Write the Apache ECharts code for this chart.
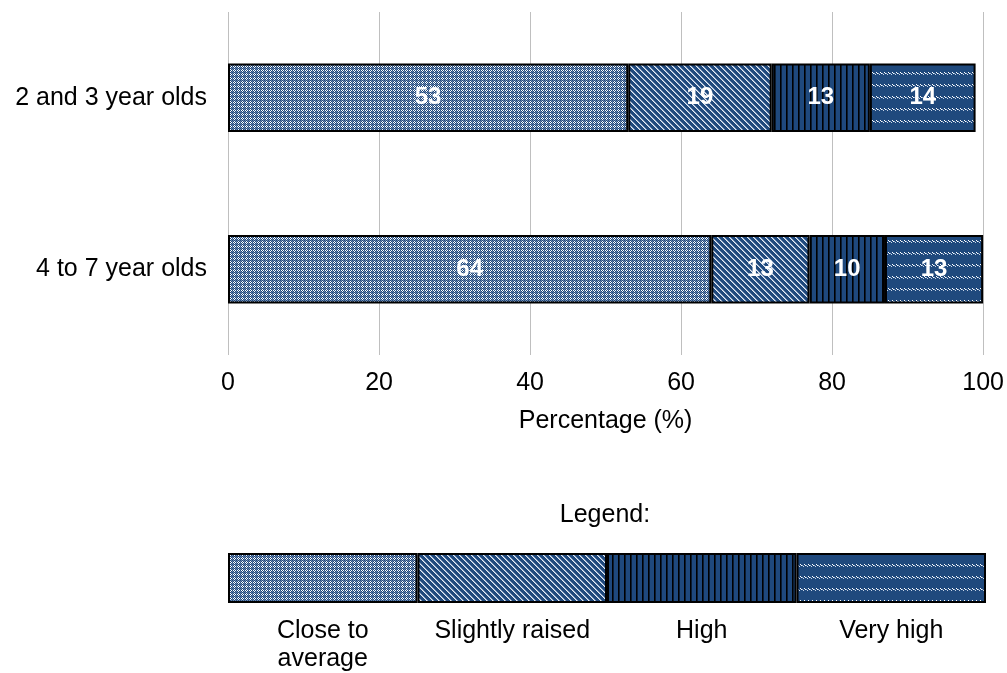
<!DOCTYPE html>
<html>
<head>
<meta charset="utf-8">
<script src="https://cdn.jsdelivr.net/npm/echarts@6/dist/echarts.min.js"></script>
<style>
  html, body { margin: 0; padding: 0; background: #fff; }
  #chart { width: 1007px; height: 673px; }
</style>
</head>
<body>
<div id="chart"></div>
<script>
// Age groups and the share (%) in each score band
const categories = ['2 and 3 year olds', '4 to 7 year olds'];
const closeToAverage = [53, 64];
const slightlyRaised = [19, 13];
const high = [13, 10];
const veryHigh = [14, 13];

const bandNames = ['Close to average', 'Slightly raised', 'High', 'Very high'];
// Equal-width swatches for the key strip under the chart
const keyShares = [1, 1, 1, 1];

const BLUE = '#1f497d';

// Builds a repeating pixel tile; paint(x, y) returns a colour or null
function makeTile(w, h, bg, paint) {
  const c = document.createElement('canvas');
  c.width = w; c.height = h;
  const ctx = c.getContext('2d');
  ctx.fillStyle = bg;
  ctx.fillRect(0, 0, w, h);
  for (let y = 0; y < h; y++) {
    for (let x = 0; x < w; x++) {
      const col = paint(x, y);
      if (col) { ctx.fillStyle = col; ctx.fillRect(x, y, 1, 1); }
    }
  }
  return { image: c, repeat: 'repeat' };
}

// Fine checker (close to average)
const patChecker = makeTile(4, 4, '#ffffff', (x, y) => {
  if ((x + y) % 2 === 0) return BLUE;
  if (x === 0 || y === 0) return '#6f88ad';
  return null;
});
// Wide downward diagonal (slightly raised)
const patDiag = makeTile(6, 6, BLUE, (x, y) => {
  const d = (x - y + 6) % 6;
  if (d === 0) return '#e8eef6';
  if (d === 1) return '#8aa2c4';
  return null;
});
// Vertical stripes (high)
const patVert = makeTile(6, 6, BLUE, (x) => {
  if (x === 0) return '#000000';
  if (x === 1) return '#0b1d33';
  return null;
});
// Rows of small dashes (very high)
const patWave = makeTile(4, 12, BLUE, (x, y) => {
  if (y === 0 && x === 0) return '#ffffff';
  if (y === 1 && x === 1) return '#ffffff';
  if (y === 1 && x === 2) return '#9fb3cf';
  if (y === 2 && x === 3) return '#c8d4e6';
  return null;
});
const patterns = [patChecker, patDiag, patVert, patWave];

const FONT = 'Liberation Sans, Arial, sans-serif';
const TEXT_SIZE = 25;

const valueLabel = {
  show: true,
  position: 'inside',
  color: '#ffffff',
  fontFamily: FONT,
  fontWeight: 'bold',
  fontSize: 24
};

const seriesData = [closeToAverage, slightlyRaised, high, veryHigh];

const mainSeries = seriesData.map((vals, i) => ({
  name: bandNames[i],
  type: 'bar',
  stack: 'total',
  xAxisIndex: 0,
  yAxisIndex: 0,
  barWidth: '40%',
  data: vals,
  itemStyle: { color: patterns[i], borderColor: '#000', borderWidth: 2 },
  label: valueLabel,
  emphasis: { disabled: true }
}));

const keySeries = {
  type: 'bar',
  xAxisIndex: 1,
  yAxisIndex: 1,
  barCategoryGap: '0%',
  data: keyShares.map((v, i) => ({
    value: v,
    itemStyle: { color: patterns[i], borderColor: '#000', borderWidth: 2 }
  })),
  emphasis: { disabled: true }
};

const chart = echarts.init(document.getElementById('chart'), null, { renderer: 'canvas' });
chart.setOption({
  animation: false,
  backgroundColor: '#ffffff',
  grid: [
    { left: 228, right: 23, top: 12, bottom: 318 },
    { left: 228, right: 21, top: 553, height: 53 }
  ],
  xAxis: [
    {
      gridIndex: 0,
      type: 'value',
      min: 0,
      max: 100,
      interval: 20,
      name: 'Percentage (%)',
      nameLocation: 'middle',
      nameGap: 54,
      nameTextStyle: { color: '#000', fontFamily: FONT, fontSize: TEXT_SIZE },
      axisLine: { show: false },
      axisTick: { show: false },
      axisLabel: { color: '#000', fontFamily: FONT, fontSize: TEXT_SIZE, margin: 16 },
      splitLine: { show: true, lineStyle: { color: '#bfbfbf', width: 1 } }
    },
    {
      gridIndex: 1,
      type: 'category',
      data: bandNames,
      axisLine: { show: false },
      axisTick: { show: false },
      axisLabel: {
        interval: 0,
        hideOverlap: false,
        color: '#000', fontFamily: FONT, fontSize: TEXT_SIZE, margin: 14, lineHeight: 28,
        formatter: v => v === 'Close to average' ? 'Close to\naverage' : v
      }
    }
  ],
  yAxis: [
    {
      gridIndex: 0,
      type: 'category',
      inverse: true,
      data: categories,
      axisLine: { show: false },
      axisTick: { show: false },
      axisLabel: { color: '#000', fontFamily: FONT, fontSize: TEXT_SIZE, margin: 21 }
    },
    {
      gridIndex: 1,
      type: 'value',
      min: 0,
      max: 1,
      show: false
    }
  ],
  graphic: [
    {
      type: 'text',
      x: 605,
      y: 515,
      style: {
        text: 'Legend:', fill: '#000', font: TEXT_SIZE + 'px ' + FONT,
        textAlign: 'center', textVerticalAlign: 'middle'
      }
    }
  ],
  series: [...mainSeries, keySeries]
});
</script>
</body>
</html>
